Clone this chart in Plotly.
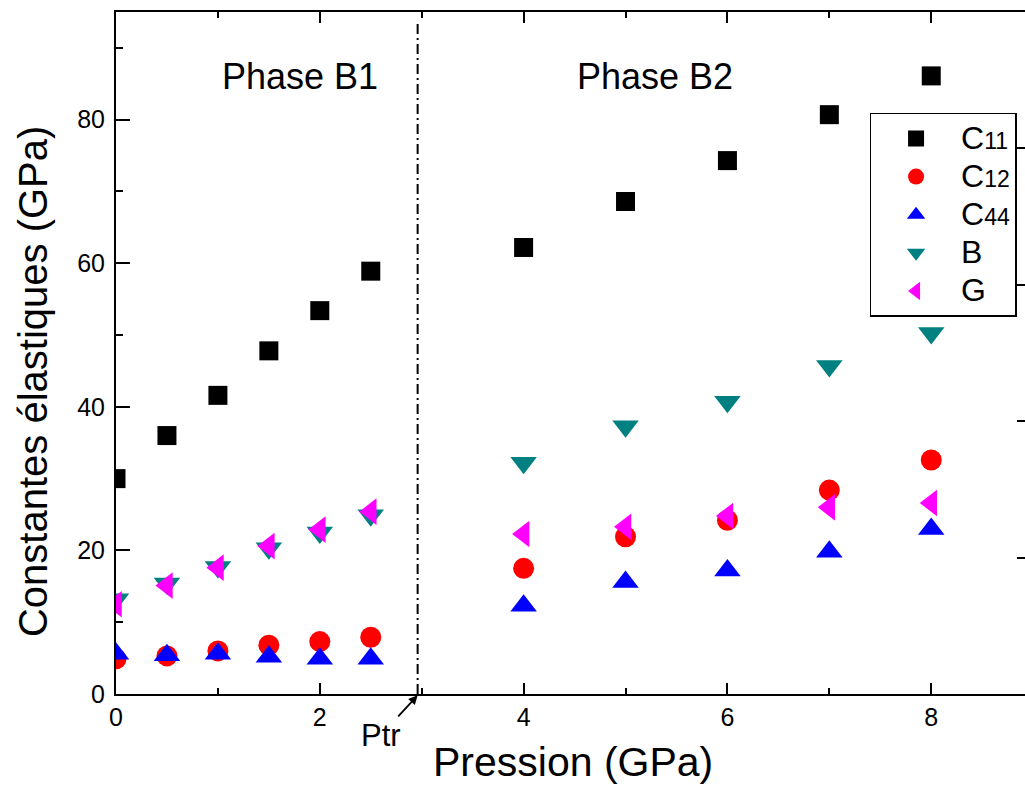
import plotly.graph_objects as go

pression = [0, 0.5, 1, 1.5, 2, 2.5, 4, 5, 6, 7, 8]
c11 = [30.0, 36.0, 41.6, 47.8, 53.4, 58.9, 62.2, 68.6, 74.3, 80.7, 86.1]
c12 = [4.9, 5.3, 6.0, 6.8, 7.3, 7.9, 17.5, 21.9, 24.2, 28.4, 32.6]
c44 = [5.6, 5.4, 5.6, 5.2, 4.9, 4.9, 12.3, 15.6, 17.2, 19.8, 23.0]
b_mod = [13.2, 15.4, 17.7, 20.3, 22.5, 24.9, 32.2, 37.3, 40.7, 45.7, 50.3]
g_mod = [12.5, 15.1, 17.6, 20.6, 22.9, 25.4, 22.3, 23.3, 24.8, 26.0, 26.6]
p_tr = 2.96

FONT = "Liberation Sans, Arial, sans-serif"


def lab(main, sub=""):
    s = f"<span style='font-size:32px'>{main}</span>"
    if sub:
        s += f"<span style='font-size:23px'>{sub}</span>"
    return s


series = [
    (lab("C", "11"), c11, "square", "#000000", 19),
    (lab("C", "12"), c12, "circle", "#ff0000", 21),
    (lab("C", "44"), c44, "triangle-up", "#0000ff", 23),
    (lab("B"), b_mod, "triangle-down", "#008080", 23),
    (lab("G"), g_mod, "triangle-left", "#ff00ff", 23),
]

fig = go.Figure()
for name, vals, sym, col, sz in series:
    fig.add_trace(go.Scatter(
        x=pression, y=vals, mode="markers", name=name,
        marker=dict(symbol=sym, color=col, size=sz, line=dict(width=0)),
    ))

# dummy trace to activate right-hand tick axis
fig.add_trace(go.Scatter(x=[None], y=[None], yaxis="y2", showlegend=False,
                         hoverinfo="skip"))

fig.add_shape(type="line", xref="x", yref="paper", x0=p_tr, x1=p_tr, y0=0, y1=0.985,
              line=dict(color="black", width=2, dash="10px,4px,2px,4px"))

fig.add_annotation(x=0.202, xref="paper", y=0.905, yref="paper", text="Phase B1",
                   xanchor="center", yanchor="middle", showarrow=False,
                   font=dict(size=36, color="black", family=FONT))
fig.add_annotation(x=0.593, xref="paper", y=0.905, yref="paper", text="Phase B2",
                   xanchor="center", yanchor="middle", showarrow=False,
                   font=dict(size=36, color="black", family=FONT))
fig.add_annotation(x=p_tr, xref="x", y=-0.002, yref="paper", text="Ptr",
                   showarrow=True, arrowhead=2, arrowsize=1, arrowwidth=1.8,
                   arrowcolor="black", ax=-37, ay=40, standoff=0,
                   font=dict(size=31, color="black", family=FONT))
# axis titles as annotations (positioned like the original)
fig.add_annotation(x=0.503, xref="paper", y=-0.1, yref="paper", text="Pression (GPa)",
                   xanchor="center", yanchor="middle", showarrow=False,
                   font=dict(size=41, color="black", family=FONT))
fig.add_annotation(x=-0.092, xref="paper", y=0.458, yref="paper",
                   text="Constantes élastiques (GPa)", textangle=-90,
                   xanchor="center", yanchor="middle", showarrow=False,
                   font=dict(size=40, color="black", family=FONT))

fig.update_layout(
    width=1025, height=789,
    margin=dict(l=116, r=0, t=12, b=95),
    plot_bgcolor="white", paper_bgcolor="white",
    font=dict(family=FONT, color="black", size=25),
    showlegend=True,
    legend=dict(x=0.829, y=0.852, xanchor="left", yanchor="top",
                bgcolor="white", bordercolor="black", borderwidth=1.5,
                font=dict(size=27, family=FONT), itemwidth=80,
                tracegroupgap=0),
    xaxis=dict(range=[0, 8.92], showline=True, linecolor="black", linewidth=2,
               mirror="ticks", ticks="inside", ticklen=11, tickwidth=2, tickcolor="black",
               dtick=2, tick0=0, showgrid=False, zeroline=False,
               minor=dict(dtick=1, ticks="inside", ticklen=6, tickwidth=2, tickcolor="black"),
               tickfont=dict(size=25)),
    yaxis=dict(range=[0, 95], showline=True, linecolor="black", linewidth=2,
               ticks="inside", ticklen=14, tickwidth=2, tickcolor="black",
               dtick=20, tick0=0, showgrid=False, zeroline=False,
               minor=dict(dtick=10, ticks="inside", ticklen=7, tickwidth=2, tickcolor="black"),
               tickfont=dict(size=25), ticklabelstandoff=4),
    yaxis2=dict(range=[0, 5], overlaying="y", side="right", showline=False,
                ticks="inside", ticklen=8, tickwidth=2, tickcolor="black",
                dtick=1, showticklabels=False, showgrid=False, zeroline=False),
)

fig.write_html("out.html")
